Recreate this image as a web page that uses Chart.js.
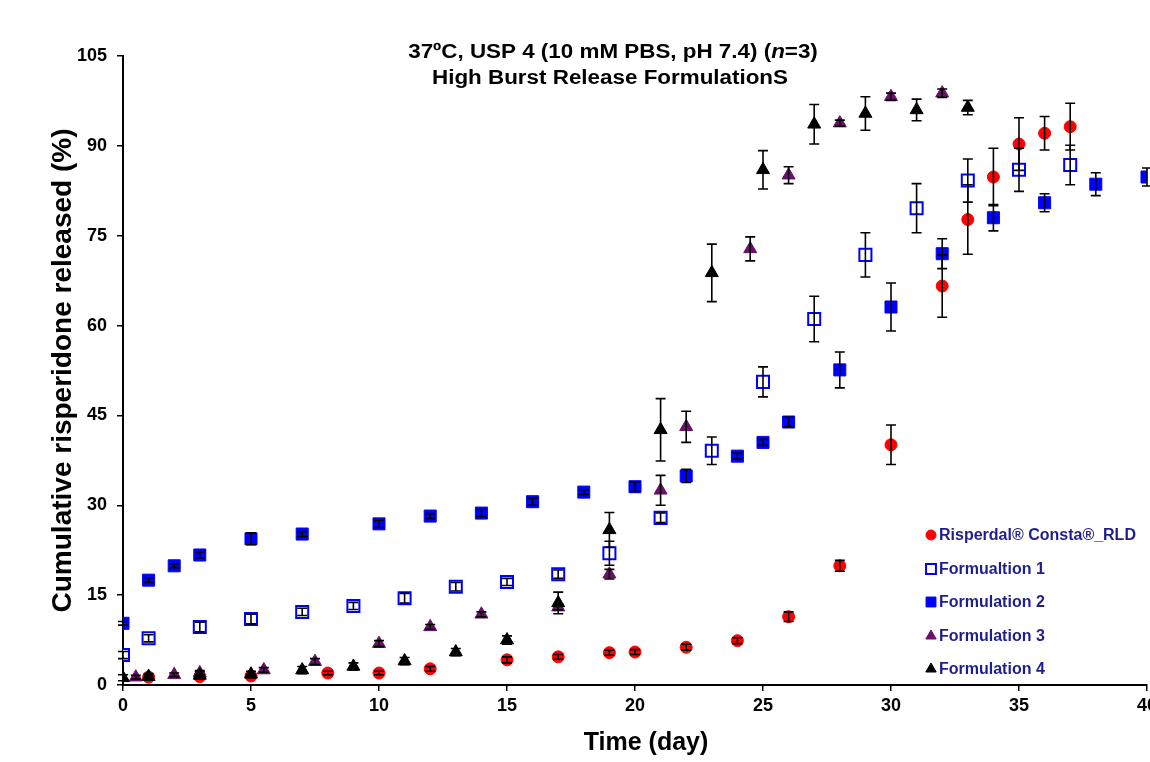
<!DOCTYPE html>
<html>
<head>
<meta charset="utf-8">
<script src="https://cdn.jsdelivr.net/npm/chart.js"></script>
<style>
  html, body { margin: 0; padding: 0; background: #fff; }
  #wrap { width: 1150px; height: 762px; }
</style>
</head>
<body>
<div id="wrap"><canvas id="chart" width="1150" height="762"></canvas></div>
<script>
// tick labels
const xTicks = [0, 5, 10, 15, 20, 25, 30, 35, 40];
const yTicks = [0, 15, 30, 45, 60, 75, 90, 105];

// Risperdal Consta RLD
const rldDays = [1, 3, 5, 8, 10, 12, 15, 17, 19, 20, 22, 24, 26, 28, 30, 32, 33, 34, 35, 36, 37];
const rldVals = [1.3, 1.4, 1.5, 2.0, 2.0, 2.7, 4.2, 4.7, 5.4, 5.5, 6.3, 7.4, 11.4, 19.9, 40.1, 66.6, 77.7, 84.8, 90.3, 92.1, 93.2];
const rldErr  = [0.3, 0.3, 0.3, 0.3, 0.3, 0.4, 0.5, 0.4, 0.4, 0.4, 0.5, 0.5, 0.8, 0.9, 3.3, 5.2, 5.8, 4.8, 4.4, 2.8, 3.9];

// Formulation 1 (open squares)
const f1Days = [0, 1, 3, 5, 7, 9, 11, 13, 15, 17, 19, 21, 23, 25, 27, 29, 31, 33, 35, 37];
const f1Vals = [5.0, 7.8, 9.7, 11.0, 12.2, 13.2, 14.5, 16.4, 17.2, 18.5, 22.0, 27.9, 39.1, 50.6, 61.1, 71.8, 79.6, 84.2, 86.0, 86.8];
const f1Err  = [0.6, 0.6, 0.8, 0.8, 0.6, 0.6, 0.8, 0.7, 0.6, 0.7, 2.0, 0.8, 2.3, 2.5, 3.8, 3.7, 4.1, 3.6, 3.6, 3.3];

// Formulation 2 (filled squares)
const f2Days = [0, 1, 2, 3, 5, 7, 10, 12, 14, 16, 18, 20, 22, 24, 25, 26, 28, 30, 32, 34, 36, 38, 40];
const f2Vals = [10.3, 17.5, 19.9, 21.7, 24.4, 25.2, 26.9, 28.2, 28.7, 30.6, 32.2, 33.1, 34.9, 38.2, 40.5, 43.9, 52.6, 63.1, 72.0, 78.0, 80.5, 83.6, 84.8];
const f2Err  = [0.3, 0.4, 0.3, 0.5, 1.0, 0.4, 0.6, 0.4, 0.6, 0.6, 0.4, 0.8, 1.1, 0.5, 0.5, 0.8, 3.0, 4.0, 2.5, 2.2, 1.5, 1.9, 1.5];

// Formulation 3 (purple triangles)
const f3Days = [0.5, 2, 3, 5.5, 7.5, 10, 12, 14, 17, 19, 21, 22, 24.5, 26, 28, 30, 32];
const f3Vals = [1.3, 1.7, 2.0, 2.5, 3.9, 6.9, 9.7, 11.8, 13.0, 18.5, 32.5, 43.1, 72.8, 85.1, 93.8, 98.2, 98.8];
const f3Err  = [0.3, 0.3, 0.4, 0.4, 0.5, 0.5, 0.4, 0.4, 0.5, 0.8, 2.5, 2.6, 2.0, 1.4, 0.5, 0.6, 0.7];

// Formulation 4 (black triangles)
const f4Days = [0, 1, 3, 5, 7, 9, 11, 13, 15, 17, 19, 21, 23, 25, 27, 29, 31, 33];
const f4Vals = [1.2, 1.4, 1.6, 1.8, 2.5, 3.1, 4.0, 5.5, 7.5, 13.7, 25.9, 42.6, 68.8, 86.0, 93.6, 95.4, 96.0, 96.4];
const f4Err  = [0.5, 0.5, 0.6, 0.5, 0.6, 0.6, 0.6, 0.6, 0.7, 1.8, 2.9, 5.2, 4.8, 3.2, 3.3, 2.8, 1.8, 1.2];

const FONT = '"Liberation Sans", Arial, sans-serif';
Chart.defaults.font.family = FONT;

function pts(xs, ys) {
  return xs.map((x, i) => ({ x: x, y: ys[i] }));
}

// error bars go on top of the markers, like in the excel original
const errorBars = {
  id: 'errorBars',
  afterDatasetsDraw(chart) {
    const ctx = chart.ctx;
    const xs = chart.scales.x, ys = chart.scales.y;
    ctx.save();
    ctx.strokeStyle = '#000';
    ctx.lineWidth = 1.6;
    chart.data.datasets.forEach(ds => {
      ds.data.forEach((p, i) => {
        const e = ds.errors[i];
        const px = xs.getPixelForValue(p.x);
        const top = ys.getPixelForValue(p.y + e);
        const bot = ys.getPixelForValue(p.y - e);
        ctx.beginPath();
        ctx.moveTo(px, top); ctx.lineTo(px, bot);
        ctx.moveTo(px - 5, top); ctx.lineTo(px + 5, top);
        ctx.moveTo(px - 5, bot); ctx.lineTo(px + 5, bot);
        ctx.stroke();
      });
    });
    ctx.restore();
  }
};

// title with italic n, x axis title and the legend inside the plot
const decor = {
  id: 'decor',
  afterDraw(chart) {
    const ctx = chart.ctx;
    const rows = [535, 569, 602, 636, 669];

    ctx.save();
    chart.data.datasets.forEach((ds, i) => {
      ctx.fillStyle = ds.backgroundColor;
      ctx.strokeStyle = ds.borderColor;
      ctx.lineWidth = ds.borderWidth;
      Chart.helpers.drawPoint(ctx, { pointStyle: ds.pointStyle, radius: ds.legendRadius, borderWidth: ds.borderWidth }, 931, rows[i]);
    });

    ctx.fillStyle = '#000';
    ctx.textBaseline = 'alphabetic';
    const line1 = [['37ºC, USP 4 (10 mM PBS, pH 7.4) (', false], ['n', true], ['=3)', false]];
    const sx = 1.12;
    const fnt = it => (it ? 'italic ' : '') + 'bold 20px ' + FONT;
    let w = 0;
    line1.forEach(s => { ctx.font = fnt(s[1]); w += ctx.measureText(s[0]).width; });
    ctx.save();
    ctx.translate(613, 58);
    ctx.scale(sx, 1);
    let cx = -w / 2;
    line1.forEach(s => {
      ctx.font = fnt(s[1]);
      ctx.fillText(s[0], cx, 0);
      cx += ctx.measureText(s[0]).width;
    });
    ctx.restore();

    ctx.save();
    ctx.translate(610, 84);
    ctx.scale(sx, 1);
    ctx.font = fnt(false);
    ctx.textAlign = 'center';
    ctx.fillText('High Burst Release FormulationS', 0, 0);
    ctx.restore();

    ctx.font = 'bold 25px ' + FONT;
    ctx.textAlign = 'center';
    ctx.fillText('Time (day)', 646, 750);

    ctx.font = 'bold 16px ' + FONT;
    ctx.textAlign = 'left';
    ctx.textBaseline = 'middle';
    ctx.fillStyle = '#1e1e8e';
    chart.data.datasets.forEach((ds, i) => {
      ctx.fillText(ds.label, 939, rows[i] + 1);
    });
    ctx.restore();
  }
};

const datasets = [
  { label: 'Risperdal® Consta®_RLD', data: pts(rldDays, rldVals), errors: rldErr,
    pointStyle: 'circle', pointRadius: 6, legendRadius: 5,
    backgroundColor: '#ff0000', borderColor: '#ff0000', borderWidth: 1, order: 5 },
  { label: 'Formualtion 1', data: pts(f1Days, f1Vals), errors: f1Err,
    pointStyle: 'rect', pointRadius: 8.5, legendRadius: 7,
    backgroundColor: '#ffffff', borderColor: '#0000ff', borderWidth: 2, order: 4 },
  { label: 'Formulation 2', data: pts(f2Days, f2Vals), errors: f2Err,
    pointStyle: 'rect', pointRadius: 8.5, legendRadius: 7,
    backgroundColor: '#0000ff', borderColor: '#0000ff', borderWidth: 1, order: 3 },
  { label: 'Formulation 3', data: pts(f3Days, f3Vals), errors: f3Err,
    pointStyle: 'triangle', pointRadius: 7.5, legendRadius: 6,
    backgroundColor: '#6a0f6a', borderColor: '#6a0f6a', borderWidth: 1, order: 2 },
  { label: 'Formulation 4', data: pts(f4Days, f4Vals), errors: f4Err,
    pointStyle: 'triangle', pointRadius: 7.5, legendRadius: 6,
    backgroundColor: '#000000', borderColor: '#000000', borderWidth: 1, order: 1 }
];

new Chart(document.getElementById('chart'), {
  type: 'scatter',
  data: { datasets: datasets },
  options: {
    responsive: false,
    animation: false,
    events: [],
    // no auto padding: the original is cropped at the right edge
    layout: { autoPadding: false, padding: { top: 56, right: 3, left: 0, bottom: 0 } },
    plugins: { legend: { display: false }, tooltip: { enabled: false } },
    scales: {
      x: {
        type: 'linear', min: 0, max: 40,
        afterBuildTicks: s => { s.ticks = xTicks.map(v => ({ value: v })); },
        afterFit: s => { s.height = 77; s.paddingLeft = 0; s.paddingRight = 0; },
        ticks: { color: '#000', font: { size: 18, weight: 'bold' }, padding: 4, maxRotation: 0 },
        grid: { drawOnChartArea: false, drawTicks: true, tickLength: 6, color: '#000', lineWidth: 1.5 },
        border: { display: true, color: '#000', width: 2 }
      },
      y: {
        type: 'linear', min: 0, max: 105,
        afterBuildTicks: s => { s.ticks = yTicks.map(v => ({ value: v })); },
        afterFit: s => { s.width = 123; },
        ticks: { color: '#000', font: { size: 18, weight: 'bold' }, padding: 10 },
        grid: { drawOnChartArea: false, drawTicks: true, tickLength: 6, color: '#000', lineWidth: 1.5 },
        border: { display: true, color: '#000', width: 2 },
        title: { display: true, text: 'Cumulative risperidone released (%)', color: '#000',
                 font: { size: 28, weight: 'bold' }, padding: { top: 46, bottom: 0 } }
      }
    }
  },
  plugins: [errorBars, decor]
});
</script>
</body>
</html>
